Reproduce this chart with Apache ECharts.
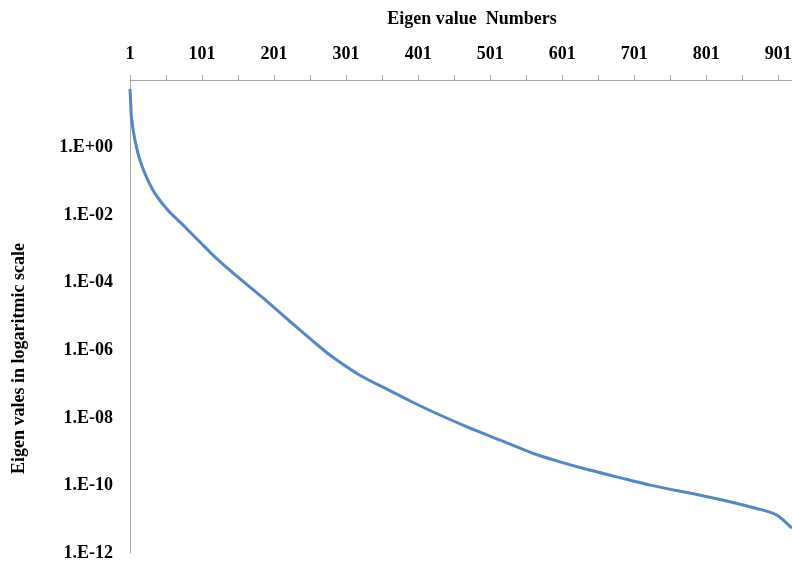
<!DOCTYPE html>
<html>
<head>
    <meta charset="UTF-8">
    <title>Eigen values</title>
    <script type="text/javascript" src="https://cdn.jsdelivr.net/npm/echarts@6/dist/echarts.min.js"></script>
    <style>
        *{margin:0;padding:0}
        html,body{width:100%;height:100%;background:#fff}
        #main{width:792px;height:565px}
    </style>
</head>
<body>
<div id="main"></div>
<script type="text/javascript">
    // eigen value numbers (category labels 1..920)
    var categories = [];
    for (var i = 1; i <= 920; i++) categories.push(String(i));

    // points: eigen value number -> eigen value
    var eigenIndex = [1, 2, 3, 8, 15, 24, 36, 54, 73, 96, 124, 151, 186, 223, 251, 279, 320, 353, 390,
        422, 469, 515, 561, 598, 631, 677, 723, 793, 825, 871, 899, 918, 920];
    var eigenValue = [54, 20, 7.8, 1.61, 0.41, 0.132, 0.0427, 0.0137, 0.0055, 0.00178,
        4.56e-4, 1.46e-4, 3.5e-5, 7.16e-6, 2.21e-6, 7.1e-7, 1.82e-7, 7.94e-8, 3.16e-8,
        1.49e-8, 5.4e-9, 2.18e-9, 8.8e-10, 5.0e-10, 3.17e-10, 1.79e-10, 1.02e-10, 5.15e-11, 3.66e-11,
        2.08e-11, 1.32e-11, 5.96e-12, 5.5e-12];

    var seriesData = eigenIndex.map(function (n, i) {
        return [n - 1, eigenValue[i]];
    });

    function expLabel(v) {
        var e = Math.round(Math.log10(v));
        var s = e < 0 ? '-' : '+';
        var a = Math.abs(e);
        return '1.E' + s + (a < 10 ? '0' + a : a);
    }

    var font = 'Liberation Serif';

    var option = {
        animation: false,
        grid: {left: 130, right: 0, top: 80, bottom: 12, containLabel: false, outerBoundsMode: 'none'},
        xAxis: {
            type: 'category',
            position: 'top',
            boundaryGap: false,
            data: categories,
            name: 'Eigen value  Numbers',
            nameLocation: 'middle',
            nameGap: 52,
            nameTextStyle: {fontFamily: font, fontWeight: 'bold', fontSize: 18, color: '#000', padding: [0, 0, 0, 22]},
            axisLine: {lineStyle: {color: '#a6a6a6', width: 1}},
            axisTick: {interval: 49, length: 5, lineStyle: {color: '#a6a6a6'}},
            axisLabel: {interval: 99, margin: 17, fontFamily: font, fontWeight: 'bold', fontSize: 18, color: '#000'},
            splitLine: {show: false}
        },
        yAxis: {
            type: 'log',
            logBase: 100,
            min: 1e-12,
            max: 100,
            splitNumber: 7,
            name: 'Eigen vales in logaritmic scale',
            nameLocation: 'middle',
            nameGap: 102,
            nameTextStyle: {fontFamily: font, fontWeight: 'bold', fontSize: 18, color: '#000', padding: [0, 84, 0, 0]},
            axisLine: {show: true, lineStyle: {color: '#a6a6a6', width: 1}},
            axisTick: {show: false},
            axisLabel: {showMaxLabel: false, margin: 17, fontFamily: font, fontWeight: 'bold', fontSize: 18, color: '#000',
                formatter: expLabel},
            splitLine: {show: false}
        },
        series: [{
            type: 'line',
            data: seriesData,
            showSymbol: false,
            symbol: 'none',
            smooth: 0.3,
            lineStyle: {color: '#5586c6', width: 3}
        }]
    };

    var myChart = echarts.init(document.getElementById('main'));
    myChart.setOption(option);
</script>
</body>
</html>
